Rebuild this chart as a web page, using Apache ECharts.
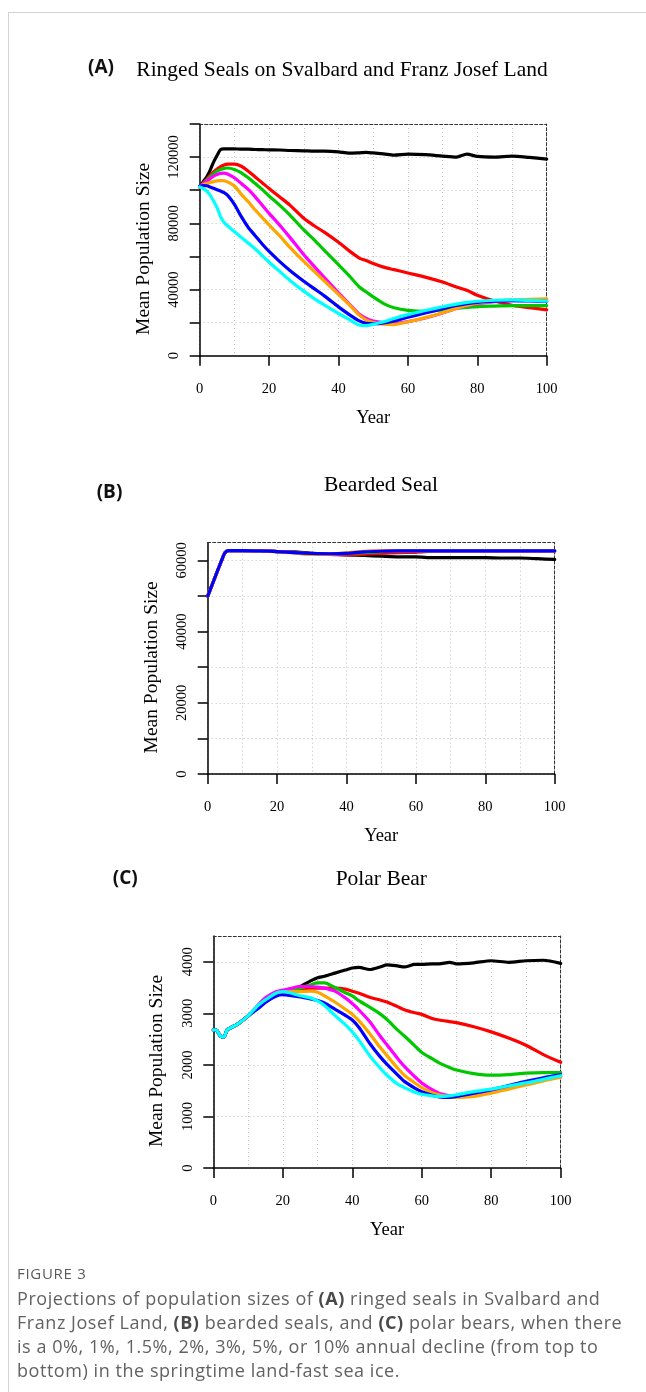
<!DOCTYPE html>
<html>
<head>
<meta charset="utf-8">
<script src="https://cdn.jsdelivr.net/npm/echarts@6.0.0/dist/echarts.min.js"></script>
<style>
  html, body { margin: 0; padding: 0; background: #fff; width: 646px; height: 1392px; overflow: hidden; }
  #frame { position: absolute; left: 8px; top: 12px; width: 700px; height: 1500px;
           border-left: 1px solid #d4d4d4; border-top: 1px solid #d4d4d4; }
  #c { position: absolute; left: 0; top: 0; width: 646px; height: 1392px; }
  #cap { position: absolute; left: 17px; top: 1263px; font-family: "Open Sans", "Noto Sans", sans-serif;
         color: #626262; white-space: nowrap; }
  #cap .fig { font-size: 15px; letter-spacing: 0.7px; color: #5a5a5a; line-height: 20px; }
  #cap .txt { font-size: 18px; letter-spacing: 0.55px; line-height: 24px; margin-top: 3px; }
  #cap b { font-weight: 700; color: #4a4a4a; }
</style>
</head>
<body>
<div id="frame"></div>
<div id="c"></div>
<div id="cap">
  <div class="fig">FIGURE 3</div>
  <div class="txt">Projections of population sizes of <b>(A)</b> ringed seals in Svalbard and<br>Franz Josef Land, <b>(B)</b> bearded seals, and <b>(C)</b> polar bears, when there<br>is a 0%, 1%, 1.5%, 2%, 3%, 5%, or 10% annual decline (from top to<br>bottom) in the springtime land-fast sea ice.</div>
</div>
<script>
// ---------------- DATA ----------------
const seriesNames = ['0%', '1%', '1.5%', '2%', '3%', '5%', '10%'];
const seriesColors = ['#000000', '#ff0000', '#00c800', '#ff00ff', '#ffa500', '#0000ff', '#00ffff'];

// Panel A: ringed seals
const yearsA = [0,1,2,3,4,5,6,7,8,10,12,14,16,18,20,23,26,30,33,36,40,43,46,48,50,53,56,60,65,70,74,77,80,85,90,95,100];
const ringed0  = [102000,105000,108000,112000,117000,121000,124500,125000,125000,125000,124800,124800,124600,124500,124400,124300,124000,123800,123600,123600,123200,122400,122600,122800,122500,122000,121200,121800,121500,120600,120000,121800,120400,120000,120600,119800,118800];
const ringed1  = [102000,104000,106500,109000,111000,112800,114200,115200,115800,115800,114500,111500,108000,104500,101000,96000,91000,83000,78500,74500,68500,63500,59000,57500,55700,53500,52000,50000,47500,44500,41500,39500,36500,33000,30500,29000,27700];
const ringed15 = [102000,104000,106000,108000,110000,111500,112500,113200,113400,112500,110500,107500,104000,100500,96500,91000,85000,76000,70000,63500,55000,48500,41500,38500,35500,31500,29000,27400,26800,27700,28700,29200,29700,30000,30300,30300,30300];
const ringed2  = [102000,104000,105500,107000,108500,109500,110200,110300,109800,107500,104000,100500,96000,91000,86000,79000,71500,61000,54000,47000,38000,31500,25000,22500,21000,20000,19600,20600,22800,25800,28500,30200,31500,32700,33300,33600,33700];
const ringed3  = [102000,103200,104000,104600,105200,105600,105800,105700,105000,102500,97500,93000,88000,83500,79000,72500,65500,57000,51000,45000,37000,31000,24500,21500,20000,19000,18800,20500,23000,26000,28600,30300,31700,32900,33700,34100,34300];
const ringed5  = [102500,102800,102700,102000,101200,100300,99500,98500,97000,91500,84000,77500,72500,67500,63000,57000,51500,45000,40500,36000,29500,25000,21000,19600,19300,19800,21000,23200,25800,28400,30300,31400,32200,32900,33300,33100,32800];
const ringed10 = [102000,101000,99500,97000,93500,89500,84000,80500,78500,75000,71500,68000,64500,60500,56500,51000,45500,39000,34500,30500,25500,22000,18500,18200,19000,20500,22500,24800,27300,29600,31200,32200,32900,33500,33700,33400,33000];
const ticksA = [0,20000,40000,60000,80000,100000,120000,140000];
const labelsA = [0,40000,80000,120000];

// Panel B: bearded seal
const yearsB = [0,2,4,5,6,8,10,15,20,25,30,35,40,45,50,55,60,65,70,75,80,85,90,95,100];
const bearded0  = [50000,55000,60000,62200,62800,62800,62800,62800,62500,62400,62000,61800,61600,61400,61200,61000,61000,60800,60800,60800,60800,60700,60700,60500,60300];
const bearded1  = [50000,55000,60000,62200,62800,62800,62800,62800,62500,62300,61900,61700,61600,61800,62000,62200,62300,62600,62700,62700,62700,62700,62700,62700,62700];
const bearded15 = [50000,55000,60000,62200,62800,62800,62800,62800,62500,62300,61900,61800,61900,62200,62500,62700,62700,62700,62700,62700,62700,62700,62700,62700,62700];
const bearded2  = [50000,55000,60000,62200,62800,62800,62800,62800,62500,62200,61800,61800,62000,62500,62700,62700,62700,62700,62700,62700,62700,62700,62700,62700,62700];
const bearded3  = [50000,55000,60000,62200,62800,62800,62800,62800,62400,62100,61700,61800,62200,62600,62700,62700,62700,62700,62700,62700,62700,62700,62700,62700,62700];
const bearded5  = [50000,55000,60000,62200,62800,62800,62800,62700,62500,62200,62000,61900,62000,62400,62600,62700,62700,62700,62700,62700,62700,62700,62700,62700,62700];
const ticksB = [0,10000,20000,30000,40000,50000,60000];
const labelsB = [0,20000,40000,60000];

// Panel C: polar bear
const yearsC = [0,1,2,3,4,5,7,10,13,15,18,20,22,25,28,30,32,35,38,40,42,45,48,50,53,55,58,60,63,65,68,70,75,80,85,90,95,100];
const bear0  = [2680,2670,2560,2540,2680,2720,2790,2950,3130,3240,3360,3400,3440,3520,3630,3690,3720,3780,3840,3880,3890,3850,3900,3940,3920,3900,3950,3950,3960,3960,3990,3960,3980,4020,3990,4020,4030,3970];
const bear1  = [2680,2670,2560,2540,2680,2720,2790,2950,3130,3240,3380,3430,3460,3480,3490,3490,3490,3490,3470,3430,3390,3310,3260,3220,3130,3070,3010,2980,2900,2870,2840,2820,2740,2640,2520,2380,2200,2050];
const bear15 = [2680,2670,2560,2540,2680,2720,2790,2950,3130,3240,3370,3410,3440,3490,3550,3590,3590,3500,3400,3340,3240,3120,2990,2880,2680,2560,2370,2240,2120,2040,1950,1900,1830,1800,1810,1840,1850,1850];
const bear2  = [2680,2670,2560,2540,2680,2720,2790,2950,3170,3300,3420,3450,3480,3520,3520,3510,3490,3430,3300,3190,3060,2840,2560,2390,2130,1970,1770,1650,1520,1450,1400,1385,1400,1480,1560,1640,1710,1770];
const bear3  = [2680,2670,2560,2540,2680,2720,2790,2950,3130,3240,3370,3400,3420,3420,3430,3410,3340,3220,3080,2980,2850,2610,2340,2180,1940,1800,1650,1560,1460,1420,1380,1370,1390,1450,1530,1610,1690,1760];
const bear5  = [2680,2670,2560,2540,2680,2720,2790,2950,3100,3210,3330,3360,3350,3320,3280,3250,3200,3080,2960,2870,2720,2420,2160,2010,1810,1680,1550,1480,1410,1380,1370,1390,1450,1520,1600,1680,1750,1810];
const bear10 = [2680,2670,2560,2540,2680,2720,2790,2950,3160,3260,3390,3420,3400,3340,3300,3240,3150,2960,2780,2640,2470,2180,1940,1800,1630,1560,1470,1430,1400,1390,1400,1420,1480,1530,1590,1650,1720,1790];
const ticksC = [0,1000,2000,3000,4000];
const labelsC = [0,1000,2000,3000,4000];

const xTicks = [0,20,40,60,80,100];

// ---------------- CHART ----------------
const SERIF = '"Liberation Serif", "Times New Roman", serif';
const SANS = '"Open Sans", "Noto Sans", sans-serif';
const gridLine = { color: '#c2c2c2', width: 1, type: [1, 3] };
const axisBlack = { color: '#000', width: 1.5 };

function pairs(xs, ys) { return xs.map((x, i) => [x, ys[i]]); }

function bottomX(g) {
  return {
    type: 'value', gridIndex: g, position: 'bottom', min: 0, max: 100, interval: 20,
    axisLine: { show: true, onZero: false, lineStyle: axisBlack },
    axisTick: { show: true, inside: false, length: 10, lineStyle: axisBlack, customValues: xTicks },
    axisLabel: { show: true, margin: 26, color: '#000', fontFamily: SERIF, fontSize: 14.5,
                 customValues: xTicks, formatter: v => String(v) },
    splitLine: { show: true, lineStyle: gridLine },
    minorTick: { show: false, splitNumber: 2 },
    minorSplitLine: { show: true, lineStyle: gridLine },
    name: 'Year', nameLocation: 'middle', nameGap: 53,
    nameTextStyle: { color: '#000', fontFamily: SERIF, fontSize: 18.5 }
  };
}
function topX(g) {
  return {
    type: 'value', gridIndex: g, position: 'top', min: 0, max: 100,
    axisLine: { show: true, onZero: false, lineStyle: { color: '#333', width: 1, type: [3, 2] } },
    axisTick: { show: false }, axisLabel: { show: false }, splitLine: { show: false }
  };
}
function leftY(g, max, interval, ticks, labels) {
  return {
    type: 'value', gridIndex: g, position: 'left', min: 0, max: max, interval: interval,
    axisLine: { show: true, onZero: false, lineStyle: axisBlack },
    axisTick: { show: true, inside: false, length: 10, lineStyle: axisBlack, customValues: ticks },
    axisLabel: { show: true, rotate: 90, margin: 18, color: '#000', fontFamily: SERIF, fontSize: 14.5,
                 customValues: labels, formatter: v => String(v) },
    splitLine: { show: true, lineStyle: gridLine },
    name: 'Mean Population Size', nameLocation: 'middle', nameGap: 46,
    nameTextStyle: { color: '#000', fontFamily: SERIF, fontSize: 19.5, padding: [0, 18, 0, 0] }
  };
}
function rightY(g, max) {
  return {
    type: 'value', gridIndex: g, position: 'right', min: 0, max: max,
    axisLine: { show: true, onZero: false, lineStyle: { color: '#333', width: 1, type: [3, 2] } },
    axisTick: { show: false }, axisLabel: { show: false }, splitLine: { show: false }
  };
}
function lineSeries(name, color, xs, ys, xi, yi) {
  return {
    type: 'line', name: name, xAxisIndex: xi, yAxisIndex: yi, data: pairs(xs, ys),
    showSymbol: false, symbol: 'none', smooth: 0.25, silent: true,
    lineStyle: { color: color, width: 3.2, cap: 'round', join: 'round' },
    itemStyle: { color: color }
  };
}

const setA = [ringed0, ringed1, ringed15, ringed2, ringed3, ringed5, ringed10];
const setB = [bearded0, bearded1, bearded15, bearded2, bearded3, bearded5];
const setC = [bear0, bear1, bear15, bear2, bear3, bear5, bear10];

const series = [];
setA.forEach((ys, i) => series.push(lineSeries('A ' + seriesNames[i], seriesColors[i], yearsA, ys, 0, 0)));
setB.forEach((ys, i) => series.push(lineSeries('B ' + seriesNames[i], seriesColors[i], yearsB, ys, 2, 2)));
setC.forEach((ys, i) => series.push(lineSeries('C ' + seriesNames[i], seriesColors[i], yearsC, ys, 4, 4)));

function txt(x, y, text, font, fill) {
  return { type: 'text', x: x, y: y, silent: true,
           style: { text: text, font: font, fill: fill || '#000', align: 'center', verticalAlign: 'middle' } };
}

const chart = echarts.init(document.getElementById('c'), null, { renderer: 'canvas', width: 646, height: 1392 });
chart.setOption({
  animation: false,
  backgroundColor: 'transparent',
  grid: [
    { left: 199.7, top: 124, width: 347, height: 231.7, outerBoundsMode: 'none' },
    { left: 207.7, top: 542.7, width: 347, height: 231.3, outerBoundsMode: 'none' },
    { left: 213.3, top: 936, width: 347.4, height: 232, outerBoundsMode: 'none' }
  ],
  xAxis: [bottomX(0), topX(0), bottomX(1), topX(1), bottomX(2), topX(2)],
  yAxis: [
    leftY(0, 140000, 20000, ticksA, labelsA), rightY(0, 140000),
    leftY(1, 65000, 10000, ticksB, labelsB), rightY(1, 65000),
    leftY(2, 4500, 500, ticksC, labelsC), rightY(2, 4500)
  ],
  series: series,
  graphic: [
    txt(101, 68, '(A)', 'bold 19px ' + SANS, '#111'),
    txt(342, 70, 'Ringed Seals on Svalbard and Franz Josef Land', '21.5px ' + SERIF),
    txt(109.5, 492.5, '(B)', 'bold 19px ' + SANS, '#111'),
    txt(381, 485.5, 'Bearded Seal', '21.5px ' + SERIF),
    txt(125.3, 879, '(C)', 'bold 19px ' + SANS, '#111'),
    txt(381.3, 879.5, 'Polar Bear', '21.5px ' + SERIF)
  ]
});
</script>
</body>
</html>
